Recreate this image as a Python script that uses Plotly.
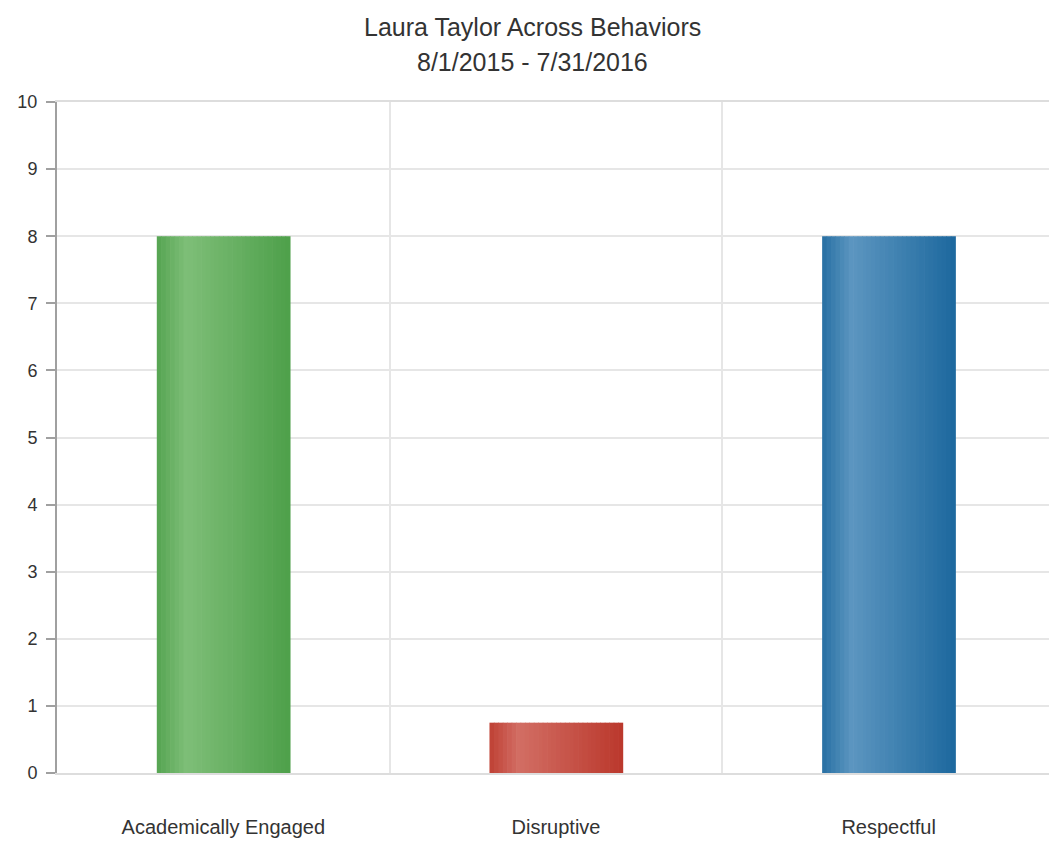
import plotly.graph_objects as go

# data
behaviors = ["Academically Engaged", "Disruptive", "Respectful"]
counts = [8, 0.75, 8]
y_ticks = [0, 1, 2, 3, 4, 5, 6, 7, 8, 9, 10]

title_line1 = "Laura Taylor Across Behaviors"
title_line2 = "8/1/2015 - 7/31/2016"

# bar colours: edge (dark) and highlight (light) for the gradient
edge_colors = [(78, 160, 74), (187, 56, 44), (29, 104, 158)]
light_colors = [(126, 190, 120), (210, 110, 100), (92, 150, 192)]


def blend(c1, c2, f):
    r, g, b = (round(a + (b_ - a) * f) for a, b_ in zip(c1, c2))
    return f"rgb({r},{g},{b})"


def shade(t):
    # horizontal gradient: dark edge, highlight ~22% in, fading back to dark
    if t < 0.22:
        return 0.15 + 0.85 * t / 0.22
    return max(0.0, (1 - t) / 0.78)


bar_width = 0.40
n_strips = 30
strip = bar_width / n_strips
x_pos = list(range(len(behaviors)))

fig = go.Figure()

for i in range(n_strips):
    t = (i + 0.5) / n_strips
    f = shade(t)
    fig.add_trace(
        go.Bar(
            x=x_pos,
            y=counts,
            width=strip * 1.15,
            offset=-bar_width / 2 + i * strip,
            marker=dict(
                color=[blend(e, l, f) for e, l in zip(edge_colors, light_colors)],
                line=dict(width=0),
            ),
            showlegend=False,
            hoverinfo="skip" if i else "x+y",
        )
    )

# page body has an 8px margin, so the figure is sized/offset to compensate
fig.update_layout(
    width=1049,
    height=836,
    barmode="overlay",
    plot_bgcolor="white",
    paper_bgcolor="white",
    margin=dict(l=49, r=0, t=94, b=71),
    font=dict(family="Liberation Sans, Arial, sans-serif", color="#333333"),
    annotations=[
        dict(text=title_line1, x=0.475, y=1 + 75 / 671, xref="paper", yref="paper",
             showarrow=False, xanchor="center", yanchor="middle",
             font=dict(size=25, color="#333333")),
        dict(text=title_line2, x=0.475, y=1 + 40 / 671, xref="paper", yref="paper",
             showarrow=False, xanchor="center", yanchor="middle",
             font=dict(size=25, color="#333333")),
    ],
)

fig.update_xaxes(
    range=[-0.5, 2.506],
    tickvals=x_pos,
    ticktext=behaviors,
    showgrid=False,
    ticks="",
    ticklabelstandoff=35,
    tickfont=dict(size=20, color="#333333"),
    showline=True,
    linecolor="#dddddd",
    linewidth=2,
    mirror=True,
    zeroline=False,
    minor=dict(tick0=0.5, dtick=1, showgrid=True, gridcolor="#e6e6e6", gridwidth=2),
)

fig.update_yaxes(
    range=[0, 10],
    tickvals=y_ticks,
    showgrid=True,
    gridcolor="#e6e6e6",
    gridwidth=2,
    zeroline=False,
    showline=True,
    linecolor="#a0a0a0",
    linewidth=2,
    ticks="outside",
    ticklen=9,
    tickwidth=2,
    tickcolor="#a0a0a0",
    ticklabelstandoff=5,
    tickfont=dict(size=18, color="#333333"),
)

fig.write_html("out.html")
